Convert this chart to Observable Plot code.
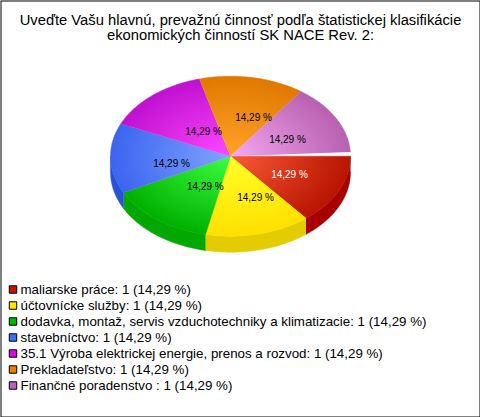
<!DOCTYPE html>
<html><head><meta charset="utf-8">
<script src="https://cdn.jsdelivr.net/npm/d3@7"></script>
<script src="https://cdn.jsdelivr.net/npm/@observablehq/plot@0.6"></script>
<style>html,body{margin:0;padding:0;background:#fff}svg{display:block}</style>
</head><body><div id="chart"></div>
<script>
const titleLines = ["Uveďte Vašu hlavnú, prevažnú činnosť podľa štatistickej klasifikácie", "ekonomických činností SK NACE Rev. 2:"];
const categories = ["maliarske práce", "účtovnícke služby", "dodavka, montaž, servis vzduchotechniky a klimatizacie", "stavebníctvo", "35.1 Výroba elektrickej energie, prenos a rozvod", "Prekladateľstvo", "Finančné poradenstvo "];
const counts = [1, 1, 1, 1, 1, 1, 1];
const percents = ["14,29", "14,29", "14,29", "14,29", "14,29", "14,29", "14,29"];
const swatchColors = ["#c01800", "#ffe800", "#00b800", "#4070f0", "#d010d8", "#e88000", "#c060b8"];
const centerColors = ["#fb5a38", "#ffff28", "#3cff40", "#80a4ff", "#ff48ff", "#ffa428", "#f4a8f0"];
const edgeColors = ["#b81400", "#ffe000", "#00b000", "#3c64f0", "#c010d0", "#e07800", "#b860b0"];
const sideColors = ["#a80000", "#e3cc00", "#00a800", "#2a52d8", "#a000a0", "#b06000", "#904090"];

const W = 480, H = 417, cx = 230, cy = 155.7, rx = 120, ry = 80, depth = 16;
const pieGap = 3 * Math.PI / 180;
const pieArcs = d3.pie().sort(null).value(d => d).startAngle(0).endAngle(2 * Math.PI - pieGap)(counts);
const arcAt = (a, y0 = 0) => ({x: cx + rx * Math.cos(a), y: cy + y0 + ry * Math.sin(a)});
const sample = (a0, a1) => d3.range(0, 61).map(k => a0 + (a1 - a0) * k / 60);

const marks = [];
marks.push(() => {
  const svg = d3.create("svg:defs");
  categories.forEach((_, i) => {
    const g = svg.append("radialGradient").attr("id", "top" + i)
      .attr("gradientUnits", "userSpaceOnUse").attr("cx", 0).attr("cy", 0).attr("r", 1)
      .attr("gradientTransform", `translate(${cx},${cy}) scale(${rx},${ry})`);
    g.append("stop").attr("offset", 0).attr("stop-color", centerColors[i]);
    g.append("stop").attr("offset", 1).attr("stop-color", edgeColors[i]);
  });
  return svg.node();
});
// rim (visible lower half only)
pieArcs.forEach((s, i) => {
  const a0 = s.startAngle, a1 = Math.min(s.endAngle, Math.PI);
  if (a0 >= Math.PI) return;
  const pts = [...sample(a0, a1).map(a => arcAt(a)), ...sample(a1, a0).map(a => arcAt(a, depth))];
  marks.push(Plot.line(pts, {x: "x", y: "y", fill: sideColors[i], stroke: sideColors[i], strokeWidth: 0.5}));
});
// top faces
pieArcs.forEach((s, i) => {
  const pts = [{x: cx, y: cy}, ...sample(s.startAngle, s.endAngle).map(a => arcAt(a))];
  marks.push(Plot.line(pts, {x: "x", y: "y", fill: `url(#top${i})`, stroke: `url(#top${i})`, strokeWidth: 0.5}));
});
// percentage labels
const labelNudge = [[-0.6,-0.6],[9.6,-1.5],[15,-4.6],[7,6],[16,9],[11,4.6],[-1,5]];
const labels = pieArcs.map((s, i) => {
  const m = (s.startAngle + s.endAngle) / 2;
  const p = {x: cx + rx * 0.55 * Math.cos(m), y: cy + ry * 0.55 * Math.sin(m)};
  return {x: p.x + labelNudge[i][0], y: p.y + labelNudge[i][1], t: percents[i] + " %", c: i === 0 ? "#fff" : "#000"};
});
marks.push(Plot.text(labels, {x: "x", y: "y", text: "t", fill: "c", fontSize: 10, fontFamily: "Liberation Sans"}));
// title
marks.push(Plot.text(titleLines, {x: () => 240, y: (d, i) => 20 + i * 15, text: d => d, fontSize: 14.75, fill: "#000", fontFamily: "Liberation Sans"}));
// legend
const legend = categories.map((c, i) => ({c, y: 289 + i * 16, t: `${c}: ${counts[i]} (${percents[i]} %)`}));
marks.push(Plot.dot(legend, {x: () => 12.5, y: "y", symbol: "square", r: 4.2, fill: "c", stroke: "#000", strokeWidth: 1}));
marks.push(Plot.text(legend, {x: () => 20, y: "y", text: "t", textAnchor: "start", fontSize: 13.33, fill: "#000", fontFamily: "Liberation Sans"}));
marks.push(Plot.frame({stroke: "#000", strokeWidth: 1, inset: 0.5}));

const plot = Plot.plot({
  width: W, height: H, margin: 0,
  x: {domain: [0, W], range: [0, W], axis: null},
  y: {domain: [0, H], range: [0, H], axis: null},
  color: {domain: categories, range: swatchColors},
  style: {background: "#fff"},
  marks
});
document.getElementById("chart").append(plot);
</script></body></html>
